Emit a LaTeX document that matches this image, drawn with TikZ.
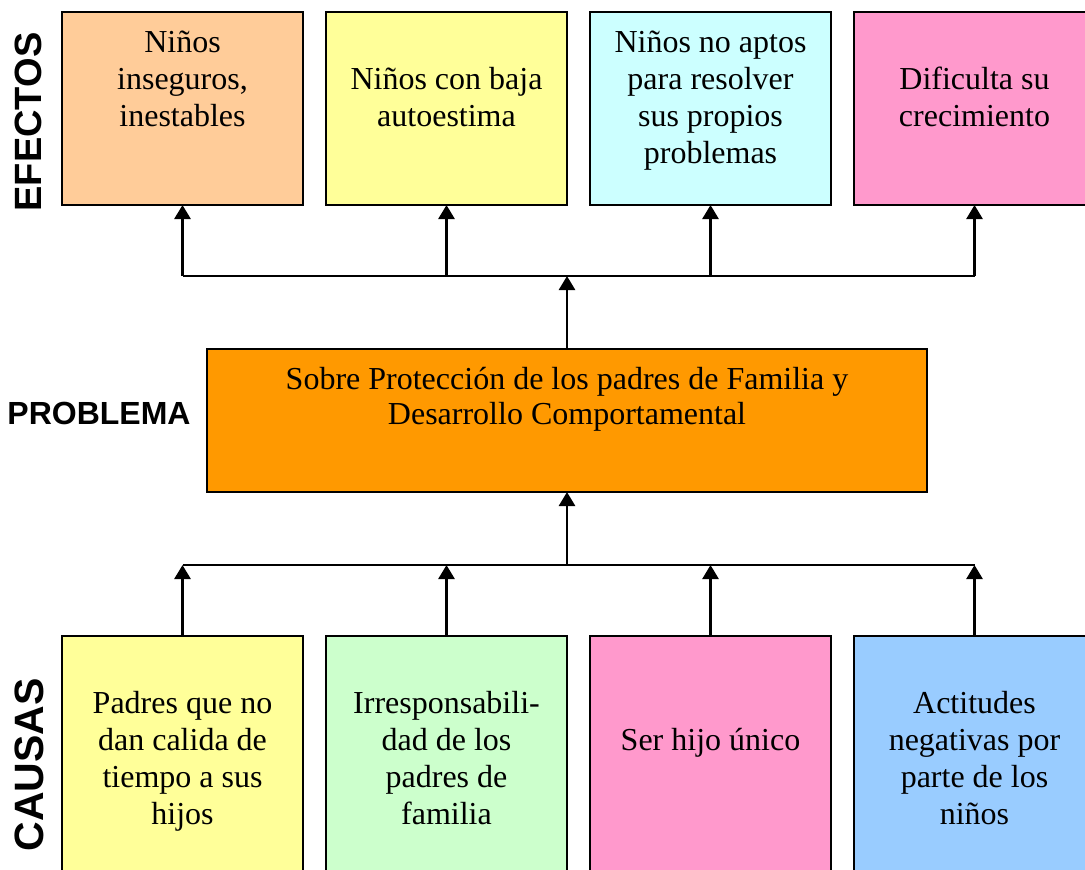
\documentclass[tikz,border=0pt]{standalone}
\usepackage{fontspec}
\setmainfont{Liberation Serif}
\setsansfont{Liberation Sans}
\usetikzlibrary{arrows.meta}
\definecolor{cpeach}{HTML}{FFCC99}
\definecolor{cyellow}{HTML}{FFFF99}
\definecolor{ccyan}{HTML}{CCFFFF}
\definecolor{cpink}{HTML}{FF99CC}
\definecolor{corange}{HTML}{FF9900}
\definecolor{cgreen}{HTML}{CCFFCC}
\definecolor{cblue}{HTML}{99CCFF}
\begin{document}
\begin{tikzpicture}[x=1pt,y=-1pt,
  box/.style={draw=black, line width=1.8pt, minimum width=241pt, minimum height=193pt, anchor=north west, inner sep=0pt, outer sep=0pt},
  cbox/.style={box, minimum height=250pt},
  txt/.style={font=\fontsize{32}{37}\selectfont, align=center, anchor=base, inner sep=0pt},
  side/.style={font=\sffamily\bfseries, inner sep=0pt},
  conn/.style={line width=2.2pt},
  arr/.style={line width=2.6pt, -{Triangle[length=14pt,width=16pt]}}]
\useasboundingbox (0,0) rectangle (1085,870);
% effects
\node[box, fill=cpeach] (e1) at (62,12) {};
\node[box, fill=cyellow] (e2) at (326,12) {};
\node[box, fill=ccyan] (e3) at (590,12) {};
\node[box, fill=cpink] (e4) at (854,12) {};
\node[txt] (e1t) at (182.5,126) {Niños\\inseguros,\\inestables};
\node[txt] (e2t) at (446.5,126) {Niños con baja\\autoestima};
\node[txt] (e3t) at (710.5,163) {Niños no aptos\\para resolver\\sus propios\\problemas};
\node[txt] (e4t) at (974.5,126) {Dificulta su\\crecimiento};
% problem
\node[draw=black, line width=1.8pt, fill=corange, minimum width=720pt, minimum height=143pt, anchor=north west, inner sep=0pt, outer sep=0pt] (p) at (207,349) {};
\node[txt, font=\fontsize{32}{35}\selectfont] (pt) at (567,424) {Sobre Protección de los padres de Familia y\\Desarrollo Comportamental};
% causes
\node[cbox, fill=cyellow] (c1) at (62,636) {};
\node[cbox, fill=cgreen] (c2) at (326,636) {};
\node[cbox, fill=cpink] (c3) at (590,636) {};
\node[cbox, fill=cblue] (c4) at (854,636) {};
\node[txt] (c1t) at (182.5,824) {Padres que no\\dan calida de\\tiempo a sus\\hijos};
\node[txt] (c2t) at (446.5,824) {Irresponsabili-\\dad de los\\padres de\\familia};
\node[txt] (c3t) at (710.5,750) {Ser hijo único};
\node[txt] (c4t) at (974.5,824) {Actitudes\\negativas por\\parte de los\\niños};
% side labels
\node[side, rotate=90, font=\sffamily\bfseries\fontsize{38}{42}\selectfont] (le) at (28,122) {EFECTOS};
\node[side, font=\sffamily\bfseries\fontsize{32}{36}\selectfont] (lp) at (99,413) {PROBLEMA};
\node[side, rotate=90, font=\sffamily\bfseries\fontsize{41}{45}\selectfont] (lc) at (29,765) {CAUSAS};
% connectors top
\coordinate (tb) at (567,276);
\coordinate (bb) at (567,565);
\draw[conn] (e1.south |- tb) -- (e4.south |- tb);
\draw[arr] (p.north) -- (tb);
\foreach \n in {e1,e2,e3,e4} \draw[arr] (\n.south |- tb) -- (\n.south);
% connectors bottom
\draw[conn] (c1.north |- bb) -- (c4.north |- bb);
\draw[arr] (bb) -- (p.south);
\foreach \n in {c1,c2,c3,c4} \draw[arr] (\n.north) -- (\n.north |- bb);
\end{tikzpicture}
\end{document}
